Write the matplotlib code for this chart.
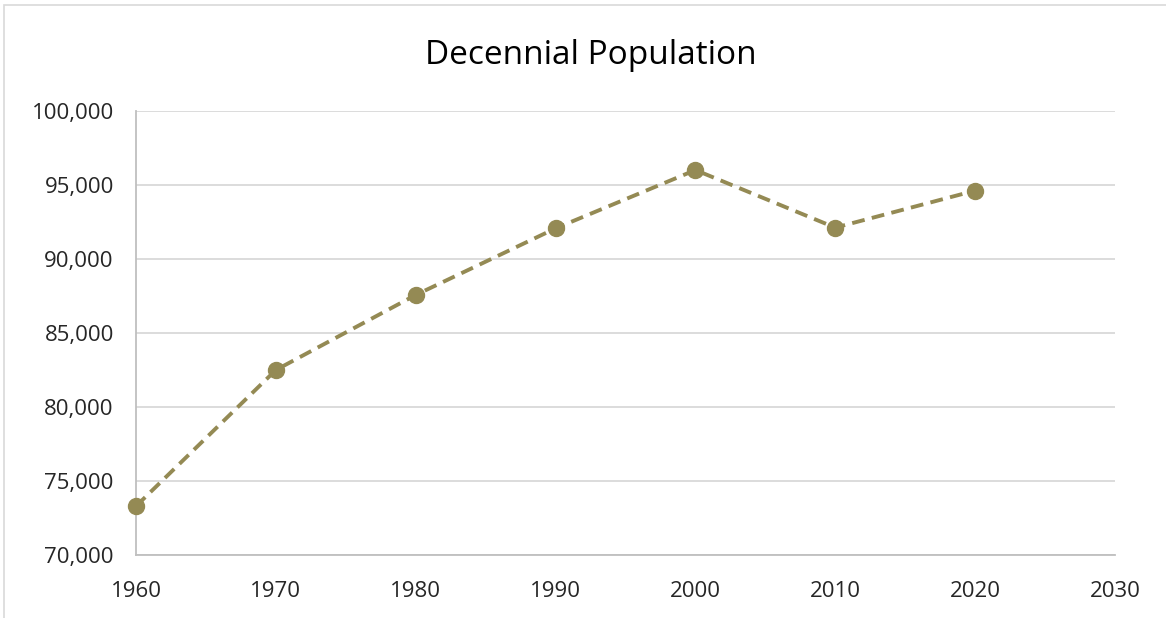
import matplotlib
matplotlib.use("Agg")
import matplotlib.pyplot as plt
from matplotlib.patches import Rectangle
from matplotlib.ticker import FuncFormatter

years = [1960, 1970, 1980, 1990, 2000, 2010, 2020]
population = [73300, 82500, 87570, 92070, 96010, 92120, 94620]
x_ticks = [1960, 1970, 1980, 1990, 2000, 2010, 2020, 2030]
y_ticks = [70000, 75000, 80000, 85000, 90000, 95000, 100000]

plt.rcParams['font.family'] = ['Open Sans', 'DejaVu Sans']

fig = plt.figure(figsize=(11.66, 6.18), dpi=100)
fig.patches.append(Rectangle((4/1166, -0.02), 1.1, 1 - 5/618 + 0.02, transform=fig.transFigure,
                             fill=False, edgecolor='#D9D9D9', linewidth=1.2))
ax = fig.add_axes([136/1166, 1 - 555/618, (1115-136)/1166, (555-111)/618])

color = '#948A54'
ax.plot(years, population, color=color, linewidth=2.8, dashes=(3.3, 1.9),
        marker='o', markersize=11.5, markeredgecolor=color, markerfacecolor=color, zorder=3, clip_on=False)

ax.set_xlim(1960, 2030)
ax.set_ylim(70000, 100000)
ax.set_xticks(x_ticks)
ax.set_yticks(y_ticks)
ax.yaxis.set_major_formatter(FuncFormatter(lambda v, p: f"{int(v):,}"))
ax.grid(axis='y', color='#D9D9D9', linewidth=1.3)
ax.set_axisbelow(True)
for s in ['top', 'right']:
    ax.spines[s].set_visible(False)
for s in ['left', 'bottom']:
    ax.spines[s].set_color('#BFBFBF')
    ax.spines[s].set_linewidth(1.3)
ax.tick_params(axis='both', length=0, labelsize=16, pad=16)
ax.tick_params(axis='x', pad=19)
for lbl in ax.get_xticklabels() + ax.get_yticklabels():
    lbl.set_color('#262626')

fig.text(591/1166, 1 - 55/618, 'Decennial Population', ha='center', va='center',
         fontsize=24, color='#000000')

fig.savefig('out.png', dpi=100)
